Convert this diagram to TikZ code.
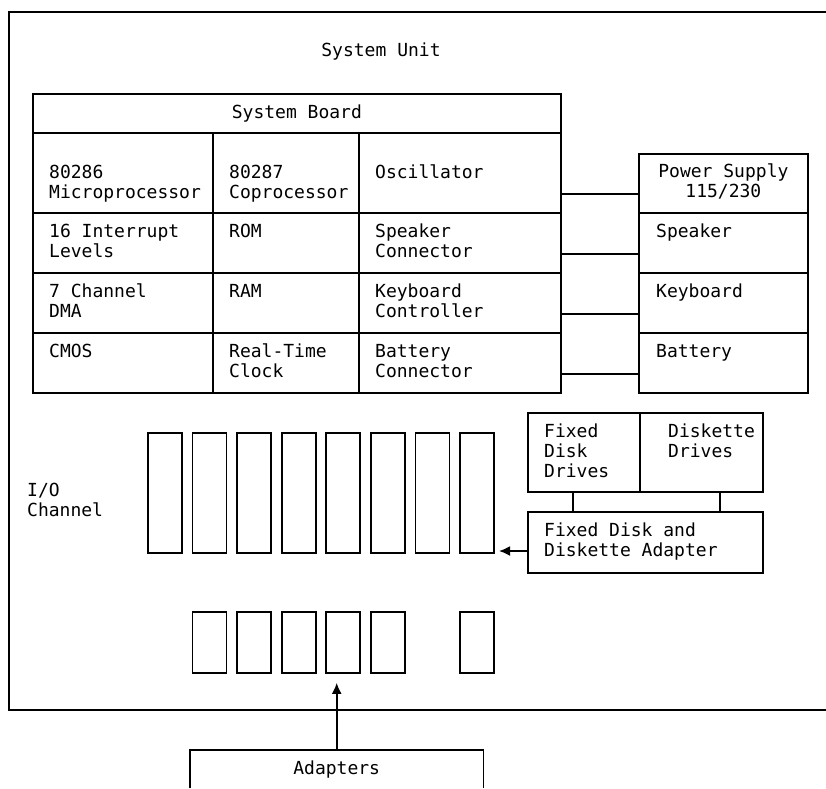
\documentclass[tikz,border=0pt]{standalone}
\usepackage{fontspec}
\newfontfamily\ibmfont{DejaVu Sans Mono}
\usetikzlibrary{arrows.meta}

\tikzset{
  wire/.style={line width=1.8pt},
  box/.style={draw, line width=1.8pt, anchor=north west, inner sep=0pt},
  txt/.style={inner sep=0pt, align=left, font=\ibmfont\fontsize{18}{20}\selectfont},
  lbl/.style={txt, anchor=north west},
}

\begin{document}
\begin{tikzpicture}[x=1pt, y=-1pt, line join=miter, >={Latex[length=11pt,width=10pt]}]
    \useasboundingbox (0,0) rectangle (826,788);

    % system unit (open on the right)
    \draw[wire] (826,12) -- (9,12) -- (9,710) -- (826,710);
    \node[txt] (unit) at (381,52) {System Unit};

    % system board
    \node[box, txt, anchor=north west, minimum width=528, minimum height=39] (board) at (32,93) {System Board};
    \foreach \nm/\x/\y/\w/\h/\dy/\t in {
        mpu/32/132/180/80/33/{80286\\Microprocessor},
        npx/212/132/146/80/33/{80287\\Coprocessor},
        osc/358/132/202/80/33/{Oscillator},
        irq/32/212/180/60/12/{16 Interrupt\\Levels},
        rom/212/212/146/60/12/{ROM},
        spkc/358/212/202/60/12/{Speaker\\Connector},
        dma/32/272/180/60/12/{7 Channel\\DMA},
        ram/212/272/146/60/12/{RAM},
        kbc/358/272/202/60/12/{Keyboard\\Controller},
        cmos/32/332/180/60/12/{CMOS},
        rtc/212/332/146/60/12/{Real-Time\\Clock},
        batc/358/332/202/60/12/{Battery\\Connector}}
    {
      \node[box, minimum width=\w, minimum height=\h] (\nm) at (\x,\y) {};
      \node[lbl] (\nm-t) at ([shift={(17,\dy)}]\nm.north west) {\t};
    }

    % external parts
    \node[box, minimum width=169, minimum height=59] (psu) at (638,153) {};
    \node[txt, align=center, anchor=north] (psu-t) at ([yshift=-11pt]psu.north) {Power Supply\\115/230};
    \foreach \nm/\y/\t in {spk/212/Speaker, kbd/272/Keyboard, bat/332/Battery}
    {
      \node[box, minimum width=169, minimum height=60] (\nm) at (638,\y) {};
      \node[lbl] (\nm-t) at ([shift={(18,12)}]\nm.north west) {\t};
    }
    \foreach \a/\b in {osc/psu, spkc/spk, kbc/kbd, batc/bat}
      \draw[wire] ([yshift=19.5pt]\a.south east) -- ([yshift=19.5pt]\b.south west);

    % I/O channel slots
    \node[lbl] (io) at (27,483) {I/O\\Channel};
    \foreach \i in {0,...,7}
      \node[box, minimum width=34, minimum height=120] (slot\i) at ({147+44.6*\i},432) {};
    \foreach \i in {1,...,5,7}
      \node[box, minimum width=34, minimum height=61] (short\i) at ({147+44.6*\i},611) {};

    % drives and adapter
    \node[box, minimum width=112, minimum height=79] (fdd) at (527,412) {};
    \node[lbl] (fdd-t) at ([shift={(17,12)}]fdd.north west) {Fixed\\Disk\\Drives};
    \node[box, minimum width=123, minimum height=79] (dsk) at (639,412) {};
    \node[lbl] (dsk-t) at ([shift={(29,12)}]dsk.north west) {Diskette\\Drives};
    \node[box, minimum width=235, minimum height=61] (fda) at (527,511) {};
    \node[lbl] (fda-t) at ([shift={(17,12)}]fda.north west) {Fixed Disk and\\Diskette Adapter};
    \draw[wire] ([xshift=46pt]fdd.south west) -- ([xshift=46pt]fdd.south west |- fda.north);
    \draw[wire] ([xshift=-44pt]dsk.south east) -- ([xshift=-44pt]dsk.south east |- fda.north);
    \draw[wire, ->, shorten >=4pt] (fda.west |- 0,551) -- (slot7.east |- 0,551);

    % adapters (open at the bottom)
    \node[txt, anchor=north west, minimum width=293, minimum height=38] (adapters) at (190,750) {Adapters};
    \draw[wire] (adapters.south west) -- (adapters.north west) -- (adapters.north east) -- (adapters.south east);
    \draw[wire, ->, shorten >=9pt] (adapters.north) -- (adapters.north |- short4.south);
\end{tikzpicture}
\end{document}
